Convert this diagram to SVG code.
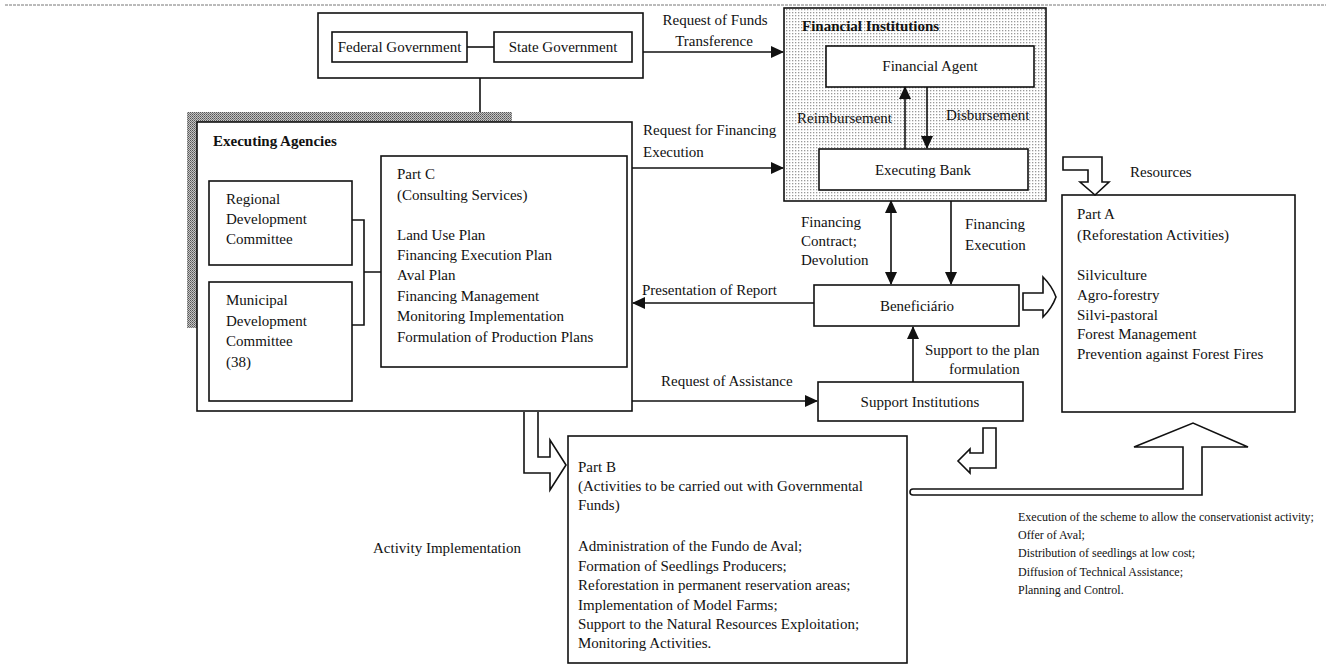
<svg xmlns="http://www.w3.org/2000/svg" width="1330" height="672" viewBox="0 0 1330 672">
<style>
.t{font-family:"Liberation Serif","Times New Roman",serif;font-size:15px;fill:#111}
.b{font-weight:bold}
.s{font-size:12px}
.m{text-anchor:middle}
.box{fill:#fff;stroke:#111;stroke-width:1.6}
.ln{fill:none;stroke:#111;stroke-width:1.6}
.ar{fill:none;stroke:#111;stroke-width:1.6;marker-end:url(#ah)}
.hol{fill:#fff;stroke:#111;stroke-width:1.6;stroke-linejoin:miter}
</style>
<defs>
<marker id="ah" markerUnits="userSpaceOnUse" markerWidth="13" markerHeight="12" refX="12" refY="6" orient="auto-start-reverse" viewBox="0 0 13 12">
<path d="M0,0 L13,6 L0,12 Z" fill="#111"/>
</marker>
<pattern id="dots" width="3" height="3" patternUnits="userSpaceOnUse">
<rect width="3" height="3" fill="#fff"/>
<rect x="0" y="0" width="1.3" height="1.3" fill="#999"/>
</pattern>
<pattern id="hatch" width="2" height="2" patternUnits="userSpaceOnUse">
<rect width="2" height="2" fill="#c4c4c4"/>
<rect x="0" y="0" width="1" height="1" fill="#555"/>
<rect x="1" y="1" width="1" height="1" fill="#777"/>
</pattern>
</defs>
<rect width="1330" height="672" fill="#fff"/>
<line x1="5" y1="5" x2="1326" y2="5" stroke="#777" stroke-width="1" stroke-dasharray="3,1"/>

<g id="government">
<rect class="box" x="318" y="13" width="325" height="65"/>
<g id="federal-government">
<rect class="box" x="332" y="32" width="135" height="30"/>
<text class="t m" x="399.5" y="52">Federal Government</text>
</g>
<g id="state-government">
<rect class="box" x="494" y="32" width="138" height="30"/>
<text class="t m" x="563" y="52">State Government</text>
</g>
</g>

<g id="executing-agencies">
<rect x="187" y="112" width="325" height="216" fill="url(#hatch)"/>
<rect class="box" x="197" y="122" width="435" height="289"/>
<text class="t b" x="213" y="146">Executing Agencies</text>
</g>

<g id="regional-committee">
<rect class="box" x="209" y="181" width="143" height="84"/>
<text class="t" x="226" y="204">Regional</text>
<text class="t" x="226" y="224">Development</text>
<text class="t" x="226" y="244">Committee</text>
</g>

<g id="municipal-committee">
<rect class="box" x="209" y="282" width="143" height="119"/>
<text class="t" x="226" y="305">Municipal</text>
<text class="t" x="226" y="326">Development</text>
<text class="t" x="226" y="346">Committee</text>
<text class="t" x="226" y="367">(38)</text>
</g>

<g id="part-c">
<rect class="box" x="381" y="156" width="246" height="211"/>
<text class="t" x="397" y="179">Part C</text>
<text class="t" x="397" y="200">(Consulting Services)</text>
<text class="t" x="397" y="240">Land Use Plan</text>
<text class="t" x="397" y="260">Financing Execution Plan</text>
<text class="t" x="397" y="280">Aval Plan</text>
<text class="t" x="397" y="301">Financing Management</text>
<text class="t" x="397" y="321">Monitoring Implementation</text>
<text class="t" x="397" y="342">Formulation of Production Plans</text>
</g>

<g id="financial-institutions">
<rect x="784" y="8" width="262" height="193" fill="url(#dots)" stroke="#111" stroke-width="1.6"/>
<text class="t b" x="802" y="31">Financial Institutions</text>
</g>

<g id="financial-agent">
<rect class="box" x="826" y="46" width="208" height="41"/>
<text class="t m" x="930" y="71">Financial Agent</text>
</g>

<g id="executing-bank">
<rect class="box" x="819" y="149" width="209" height="41"/>
<text class="t m" x="923" y="175">Executing Bank</text>
</g>

<g id="beneficiario">
<rect class="box" x="814" y="285" width="205" height="41"/>
<text class="t m" x="917" y="311">Beneficiário</text>
</g>

<g id="support-institutions">
<rect class="box" x="818" y="382" width="205" height="39"/>
<text class="t m" x="920" y="407">Support Institutions</text>
</g>

<g id="part-a">
<rect class="box" x="1062" y="195" width="233" height="217"/>
<text class="t" x="1077" y="219">Part A</text>
<text class="t" x="1077" y="240">(Reforestation Activities)</text>
<text class="t" x="1077" y="280">Silviculture</text>
<text class="t" x="1077" y="300">Agro-forestry</text>
<text class="t" x="1077" y="320">Silvi-pastoral</text>
<text class="t" x="1077" y="339">Forest Management</text>
<text class="t" x="1077" y="359">Prevention against Forest Fires</text>
</g>

<g id="part-b">
<rect class="box" x="568" y="436" width="339" height="227"/>
<text class="t" x="578" y="472">Part B</text>
<text class="t" x="578" y="491">(Activities to be carried out with Governmental</text>
<text class="t" x="578" y="510">Funds)</text>
<text class="t" x="578" y="551">Administration of the Fundo de Aval;</text>
<text class="t" x="578" y="571">Formation of Seedlings Producers;</text>
<text class="t" x="578" y="590">Reforestation in permanent reservation areas;</text>
<text class="t" x="578" y="610">Implementation of Model Farms;</text>
<text class="t" x="578" y="629">Support to the Natural Resources Exploitation;</text>
<text class="t" x="578" y="648">Monitoring Activities.</text>
</g>

<g id="connectors">
<path class="ln" d="M467,47 L494,47"/>
<path class="ln" d="M480,78 L480,112"/>
<path class="ln" d="M352,220 L364,220 L364,325 L352,325 M364,272 L381,272"/>
<path class="ar" d="M643,52 L783,52"/>
<path class="ar" d="M632,168 L783,168"/>
<path class="ar" d="M905,149 L905,87"/>
<path class="ar" d="M927,87 L927,148"/>
<path class="ar" d="M891,201 L891,284" style="marker-start:url(#ah)"/>
<path class="ar" d="M951,201 L951,284"/>
<path class="ar" d="M814,303 L633,303"/>
<path class="ar" d="M913,382 L913,327"/>
<path class="ar" d="M632,401 L817,401"/>
<path class="hol" d="M1063,157 L1102,157 L1102,182 L1109,182 L1095,195 L1080,182 L1088,182 L1088,170 L1063,170 Z"/>
<path class="hol" d="M1023,293 L1043,293 L1043,277 Q1052,286 1056,297 Q1052,308 1043,317 L1043,310 L1023,310 Z"/>
<path class="hol" d="M524,412 L524,473 L550,473 L550,490 L566,465 L550,440 L550,457 L538,457 L538,412"/>
<path class="hol" d="M983,428 L983,453 L970,453 L970,449 L958,461 L970,473 L970,468 L996,468 L996,428 Z"/>
<path class="hol" d="M913,489 L1183,489 L1183,447 L1134,447 L1193,423 L1248,447 L1202,447 L1202,495 L913,495 A3,3 0 0 1 913,489 Z"/>
<text class="t m" x="715" y="25">Request of Funds</text>
<text class="t m" x="714" y="46">Transference</text>
<text class="t" x="643" y="135">Request for Financing</text>
<text class="t" x="643" y="157">Execution</text>
<text class="t" x="797" y="123">Reimbursement</text>
<text class="t" x="946" y="120">Disbursement</text>
<text class="t" x="801" y="227">Financing</text>
<text class="t" x="801" y="246">Contract;</text>
<text class="t" x="801" y="265">Devolution</text>
<text class="t" x="965" y="229">Financing</text>
<text class="t" x="965" y="250">Execution</text>
<text class="t" x="642" y="295">Presentation of Report</text>
<text class="t" x="925" y="355">Support to the plan</text>
<text class="t" x="949" y="374">formulation</text>
<text class="t" x="661" y="386">Request of Assistance</text>
<text class="t" x="1130" y="177">Resources</text>
<text class="t" x="373" y="553">Activity Implementation</text>
<text class="t s" x="1018" y="521">Execution of the scheme to allow the conservationist activity;</text>
<text class="t s" x="1018" y="539">Offer of Aval;</text>
<text class="t s" x="1018" y="557">Distribution of seedlings at low cost;</text>
<text class="t s" x="1018" y="576">Diffusion of Technical Assistance;</text>
<text class="t s" x="1018" y="594">Planning and Control.</text>
</g>
</svg>
